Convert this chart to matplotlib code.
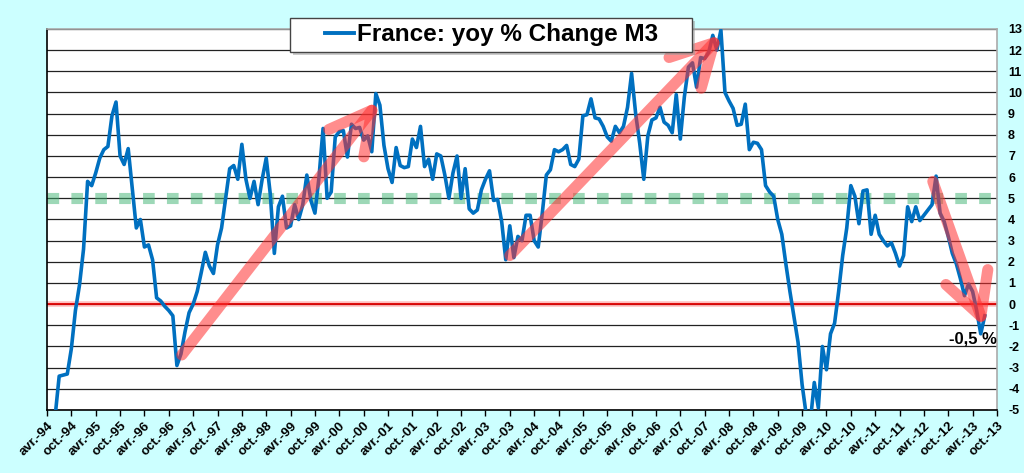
import numpy as np
import matplotlib
matplotlib.use("Agg")
import matplotlib.pyplot as plt
from matplotlib.lines import Line2D
from matplotlib.patches import Rectangle

plt.rcParams['font.family'] = ['Liberation Sans', 'DejaVu Sans']

# monthly yoy % change of French M3, avr.-94 (index 0) .. juil.-13
m3_yoy = [
    -7.0, -6.2, -5.3, -3.4, -3.35, -3.3, -2.1, -0.3, 0.9, 2.6,
    5.8, 5.6, 6.2, 6.9, 7.3, 7.45, 8.9, 9.55, 7.0, 6.6,
    7.35, 5.5, 3.6, 4.0, 2.7, 2.8, 2.1, 0.3, 0.15, -0.1,
    -0.3, -0.55, -2.9, -2.35, -1.3, -0.4, 0.0, 0.6, 1.5, 2.45,
    1.8, 1.45, 2.8, 3.6, 5.0, 6.4, 6.55, 5.9, 7.55, 5.9,
    5.0, 5.8, 4.7, 5.9, 6.9, 5.2, 2.4, 4.6, 5.1, 3.6,
    3.7, 4.7, 4.0, 4.7, 6.1, 4.9, 4.3, 6.0, 8.3, 5.0,
    5.3, 7.9, 8.15, 8.2, 6.95, 8.5, 8.3, 8.35, 7.75, 7.95,
    7.2, 9.95, 9.4, 7.5, 6.4, 5.75, 7.4, 6.55, 6.45, 6.5,
    7.8, 7.4, 8.4, 6.5, 6.85, 5.9, 7.1, 7.0, 6.1, 5.0,
    6.2, 7.0, 5.0, 6.4, 4.5, 4.3, 4.45, 5.4, 5.9, 6.3,
    4.9, 4.95, 3.9, 2.1, 3.7, 2.2, 3.2, 3.0, 4.2, 4.2,
    3.0, 2.7, 4.3, 6.1, 6.35, 7.3, 7.2, 7.3, 7.5, 6.6,
    6.5, 6.85, 8.9, 8.95, 9.7, 8.8, 8.75, 8.4, 7.9, 7.7,
    8.4, 8.1, 8.4, 9.3, 10.9, 9.0, 7.6, 5.9, 7.95, 8.7,
    8.8, 9.3, 8.6, 8.45, 8.1, 9.9, 7.8, 9.8, 11.2, 11.4,
    10.25, 11.65, 11.6, 11.9, 12.7, 12.0, 12.95, 10.0, 9.6, 9.25,
    8.45, 8.5, 9.45, 7.3, 7.65, 7.6, 7.3, 5.6, 5.3, 5.1,
    4.0, 3.3, 1.9, 0.6, -0.6, -1.8, -3.8, -5.2, -5.6, -3.7,
    -4.9, -2.0, -3.1, -1.4, -0.9, 0.6, 2.3, 3.6, 5.6, 5.1,
    3.8, 5.35, 5.4, 3.3, 4.2, 3.3, 3.0, 2.75, 2.9, 2.4,
    1.8, 2.3, 4.6, 3.9, 4.6, 3.95, 4.2, 4.45, 4.7, 6.05,
    4.3, 3.9, 3.2, 2.4, 1.9, 1.2, 0.4, 0.95, 0.6, -0.3,
    -1.4, -0.55,
]
months = np.arange(len(m3_yoy))

tick_pos = list(range(0, 235, 6))
tick_labels = []
for i, p in enumerate(tick_pos):
    yy = (94 + (3 + p) // 12) % 100
    tick_labels.append(("avr.-" if i % 2 == 0 else "oct.-") + "%02d" % yy)

y_ticks = list(range(-5, 14))
target = 5
last_label = "-0,5 %"
legend_label = "France: yoy % Change M3"

# hand drawn trend arrows (start month, start value, end month, end value)
arrows = [
    (33.2, -2.4, 81.8, 9.6),
    (114.0, 2.3, 166.3, 12.75),
    (218.2, 5.8, 231.0, -1.1),
]

fig = plt.figure(figsize=(10.24, 4.73), dpi=100)
fig.patch.set_facecolor('#CCFFFF')
ax = fig.add_axes([0.0459, 0.1332, 0.9277, 0.8055])
ax.set_facecolor('white')

for y in y_ticks:
    ax.axhline(y, color='#222222', lw=0.9, zorder=1)

ax.axhline(0, color='#FF8080', lw=4, alpha=0.5, zorder=2)
ax.axhline(0, color='#DD0000', lw=1.3, zorder=2)
ax.axhline(target, color='#3CB371', lw=8, alpha=0.5,
           linestyle=(0, (1.05, 1.1)), dash_capstyle='butt', zorder=2)

ax.plot(months, m3_yoy, color='#0070C0', lw=2.6, zorder=3,
        solid_joinstyle='round')

for x0, y0, x1, y1 in arrows:
    ax.annotate('', xy=(x1, y1), xytext=(x0, y0),
                arrowprops=dict(arrowstyle='->, head_length=3.0, head_width=1.6',
                                color='#FF3030', alpha=0.55, lw=8,
                                shrinkA=0, shrinkB=0, capstyle='round',
                                joinstyle='round'),
                zorder=4)

ax.text(234, -1.65, last_label, ha='right', va='center', fontsize=12,
        fontweight='bold', zorder=5)

ax.set_xlim(0, 234)
ax.set_ylim(-5, 13)
ax.set_xticks(tick_pos)
ax.set_xticklabels(tick_labels, rotation=45, ha='right', rotation_mode='anchor',
                   fontsize=9.5, fontweight='bold')
ax.tick_params(axis='x', direction='out', length=4, width=1, pad=3)
ax.yaxis.tick_right()
ax.set_yticks(y_ticks)
ax.set_yticklabels([str(v) for v in y_ticks], fontsize=9, fontweight='bold')
ax.tick_params(axis='y', length=0, pad=8)

ax.spines['left'].set_color('black')
ax.spines['bottom'].set_color('black')
ax.spines['top'].set_color('#AAAAAA')
ax.spines['right'].set_color('#AAAAAA')
for s in ax.spines.values():
    s.set_linewidth(1.2)

# legend box with a soft shadow, like the spreadsheet legend
W, H = 1024.0, 473.0
bx0, bx1, by0, by1 = 290, 692, 18, 52
fig.patches.append(Rectangle((bx0 / W + 3 / W, 1 - by1 / H - 3 / H),
                             (bx1 - bx0) / W, (by1 - by0) / H,
                             transform=fig.transFigure, facecolor='#999999',
                             alpha=0.5, edgecolor='none', zorder=10))
fig.patches.append(Rectangle((bx0 / W, 1 - by1 / H), (bx1 - bx0) / W,
                             (by1 - by0) / H, transform=fig.transFigure,
                             facecolor='white', edgecolor='#444444', lw=1.0,
                             zorder=11))
handle = Line2D([], [], color='#0070C0', lw=2.8)
leg = fig.legend([handle], [legend_label], loc='center',
                 bbox_to_anchor=(491.5 / W, 1 - 35 / H), frameon=False,
                 handlelength=1.2, handletextpad=0.1, borderpad=0.0,
                 prop={'size': 17.5, 'weight': 'bold'})
leg.set_zorder(12)

fig.savefig('out.png', dpi=100, facecolor=fig.get_facecolor())
